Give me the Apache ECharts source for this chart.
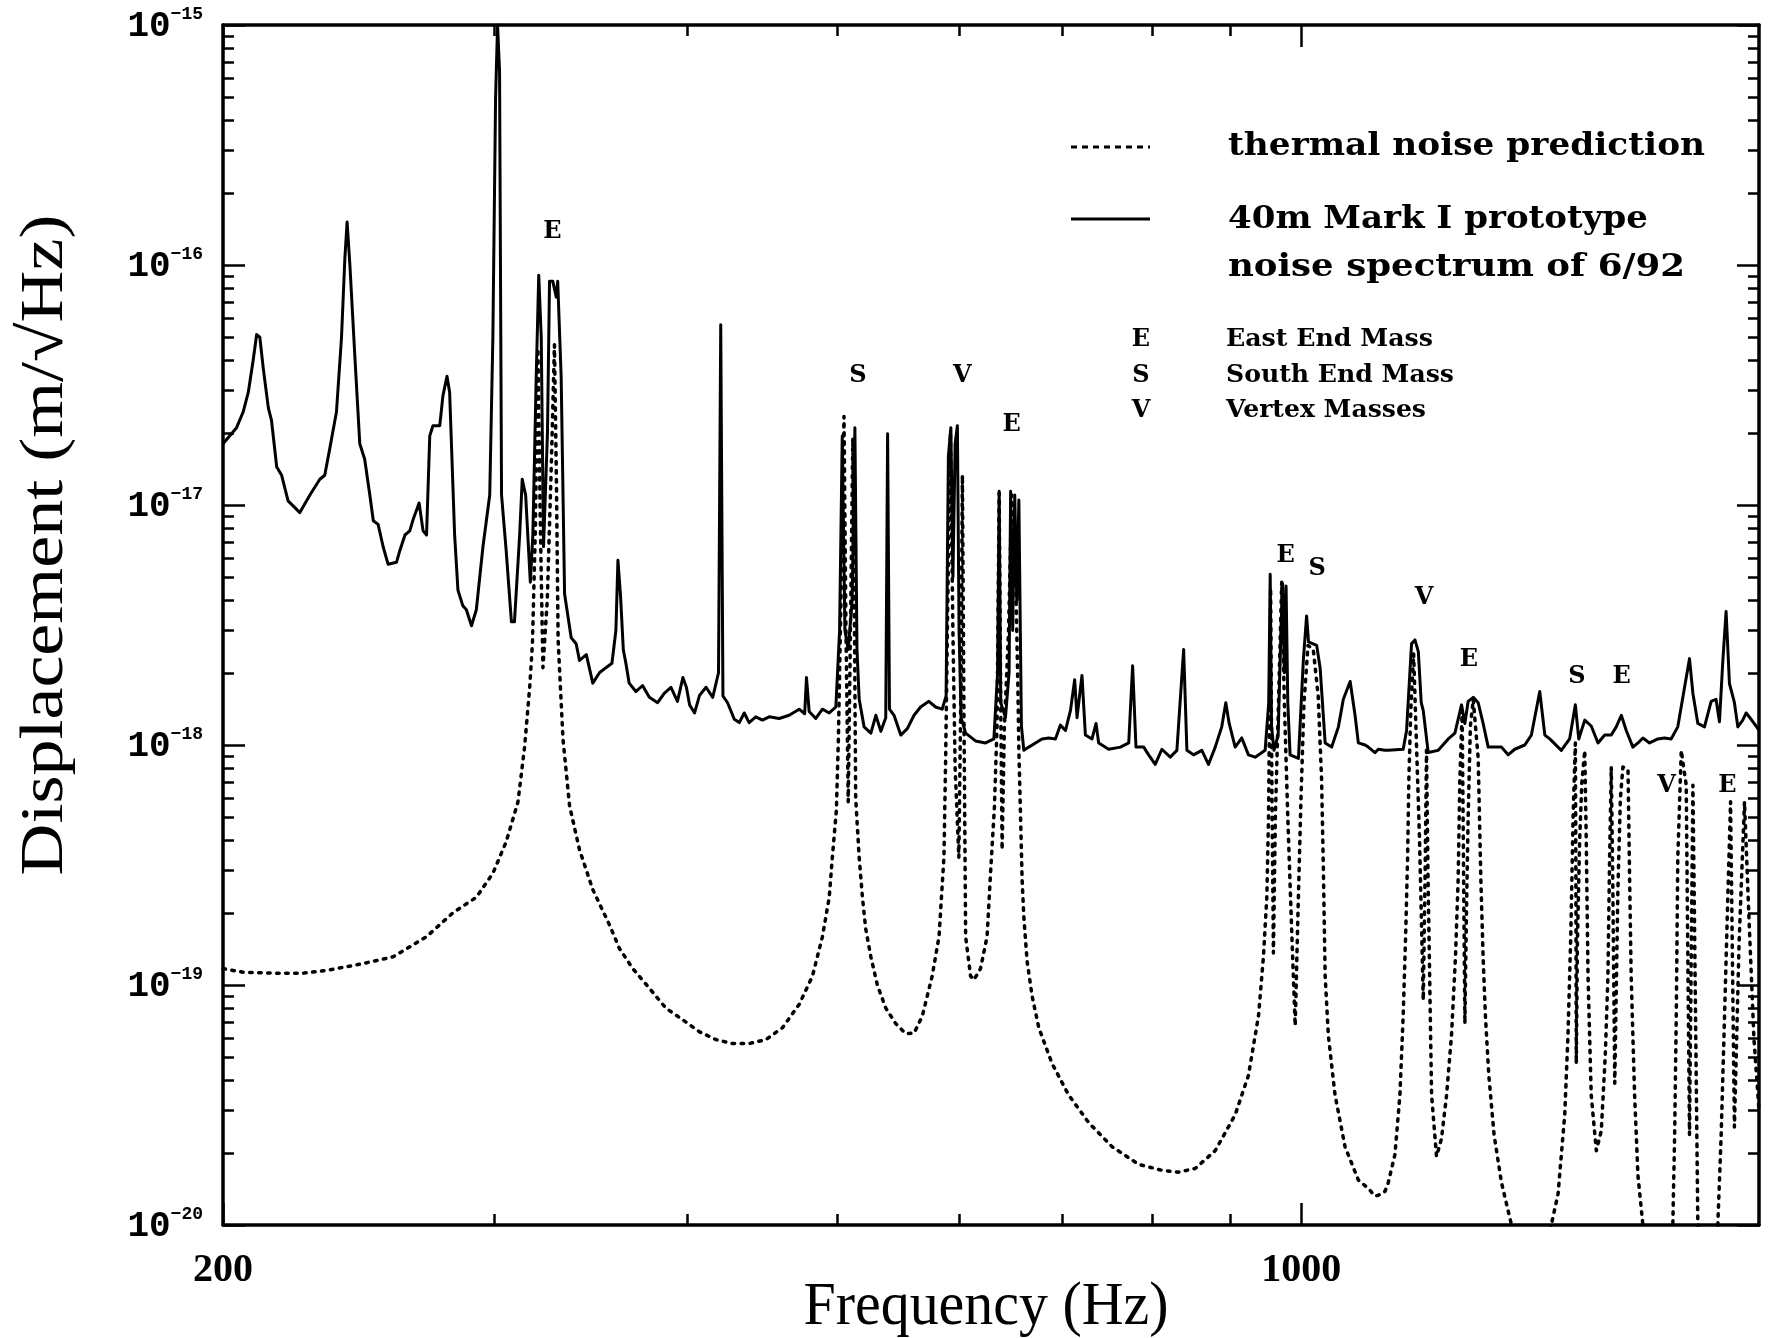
<!DOCTYPE html>
<html><head><meta charset="utf-8">
<script src="https://cdn.jsdelivr.net/npm/echarts@6/dist/echarts.min.js"></script>
<style>html,body{margin:0;padding:0;background:#fff}#chart{width:1771px;height:1338px}</style>
</head><body><div id="chart"></div>
<script>
// ---------- DATA ----------
const xRange = [200, 1980];            // Hz
const yRangeExp = [-20, -15];          // decades of m/sqrt(Hz)
const xTickMajor = [200, 1000];
const xTickMinor = [300, 400, 500, 600, 700, 800, 900];
const xTickLabels = [200, 1000];
const yTickLabelExp = [-20, -19, -18, -17, -16, -15];

// 40m Mark I prototype noise spectrum [Hz, m/sqrt(Hz)]
const measured = [
[200,1.80e-17],[204.1,2.1e-17],[206.1,2.44e-17],[207.7,2.95e-17],[209.2,4.0e-17],[210.3,5.13e-17],[211.3,5.0e-17],[212.4,3.7e-17],[214.0,2.54e-17],[215.0,2.26e-17],[216.7,1.44e-17],[218.3,1.33e-17],[220.4,1.04e-17],[224.3,9.3e-18],[227.7,1.1e-17],[231.1,1.28e-17],[232.8,1.33e-17],[234.6,1.73e-17],[236.9,2.44e-17],[238.7,5.0e-17],[239.9,1.07e-16],[240.7,1.51e-16],[241.7,1.0e-16],[243.5,4.16e-17],[245.3,1.8e-17],[247.1,1.55e-17],[249.0,1.1e-17],[250.3,8.6e-18],[252.1,8.3e-18],[254.0,6.7e-18],[255.9,5.66e-18],[259.1,5.77e-18],[260.4,6.45e-18],[262.4,7.5e-18],[264.3,7.8e-18],[265.7,8.75e-18],[268.0,1.02e-17],[269.6,7.8e-18],[271.0,7.5e-18],[272.3,1.94e-17],[273.6,2.14e-17],[276.4,2.14e-17],[277.7,2.85e-17],[279.4,3.44e-17],[280.5,2.95e-17],[282.6,7.5e-18],[284.0,4.42e-18],[286.1,3.8e-18],[287.6,3.66e-18],[289.8,3.14e-18],[291.9,3.66e-18],[294.8,6.7e-18],[297.8,1.1e-17],[299.2,5.0e-17],[300.4,4.9e-16],[301.3,1.0e-15],[302.2,6.4e-16],[303.1,1.1e-17],[305.2,6.45e-18],[307.6,3.26e-18],[309.0,3.26e-18],[311.4,7.5e-18],[312.6,1.28e-17],[314.2,1.1e-17],[316.4,4.77e-18],[317.6,7.5e-18],[319.2,3.44e-17],[320.4,9.06e-17],[321.6,5.0e-17],[322.7,6.7e-18],[324.6,2.0e-17],[325.6,8.55e-17],[327.2,8.55e-17],[328.9,7.35e-17],[329.6,8.55e-17],[331.3,3.44e-17],[333.0,4.26e-18],[336.3,2.8e-18],[338.8,2.64e-18],[340.5,2.25e-18],[344.0,2.38e-18],[347.3,1.81e-18],[350.8,2.0e-18],[354.2,2.1e-18],[357.4,2.19e-18],[359.5,3.0e-18],[360.6,5.88e-18],[362.0,4.18e-18],[363.5,2.5e-18],[364.9,2.19e-18],[366.7,1.81e-18],[370.4,1.67e-18],[374.1,1.77e-18],[377.9,1.58e-18],[382.6,1.5e-18],[386.4,1.64e-18],[390.3,1.74e-18],[394.1,1.52e-18],[397.3,1.91e-18],[399.4,1.74e-18],[401.3,1.47e-18],[404.3,1.36e-18],[407.3,1.61e-18],[411.3,1.74e-18],[415.4,1.58e-18],[419.0,2.0e-18],[420.4,5.64e-17],[421.8,1.6e-18],[424.7,1.5e-18],[429.0,1.28e-18],[432.2,1.24e-18],[435.4,1.36e-18],[438.6,1.24e-18],[443.0,1.31e-18],[447.4,1.27e-18],[451.9,1.31e-18],[458.7,1.29e-18],[465.6,1.33e-18],[472.6,1.41e-18],[476.5,1.35e-18],[477.8,1.91e-18],[479.7,1.38e-18],[484.5,1.29e-18],[489.3,1.41e-18],[494.3,1.36e-18],[499.2,1.44e-18],[502.0,3e-18],[504.0,1.94e-17],[506.0,3e-18],[508.5,2.5e-18],[511.5,4e-18],[513.6,2.1e-17],[515.2,2.5e-18],[516.9,1.55e-18],[520.7,1.19e-18],[526.0,1.12e-18],[529.9,1.33e-18],[533.9,1.14e-18],[537.8,1.3e-18],[539.3,1.98e-17],[540.8,1.41e-18],[544.5,1.33e-18],[550.0,1.1e-18],[555.4,1.17e-18],[561.0,1.33e-18],[566.5,1.44e-18],[573.6,1.52e-18],[579.3,1.44e-18],[585.1,1.41e-18],[588.5,1.6e-18],[590.5,1.6e-17],[592.7,2.1e-17],[594.5,5e-18],[596.5,1.8e-17],[598.5,2.14e-17],[600.0,3e-18],[601.8,1.3e-18],[605.9,1.12e-18],[614.9,1.04e-18],[624.2,1.02e-18],[632.0,1.06e-18],[635.5,2e-18],[637.0,1.14e-17],[638.5,1.5e-18],[643.0,1.3e-18],[646.5,2e-18],[648.0,1.14e-17],[650.0,3e-18],[652.0,1.1e-17],[654.0,4e-18],[656.0,1.05e-17],[658.5,1.2e-18],[660.9,9.5e-19],[665.8,9.8e-19],[672.5,1.02e-18],[679.1,1.06e-18],[686.0,1.07e-18],[692.8,1.06e-18],[697.9,1.21e-18],[703.3,1.15e-18],[708.5,1.39e-18],[713.0,1.87e-18],[715.5,1.3e-18],[720.8,1.95e-18],[724.5,1.1e-18],[731.7,1.06e-18],[736.1,1.23e-18],[739.0,1.02e-18],[750.1,9.6e-19],[763.4,9.8e-19],[772.9,1.02e-18],[777.4,2.14e-18],[781.3,9.8e-19],[790.4,9.8e-19],[796.2,9.1e-19],[804.1,8.3e-19],[812.1,9.6e-19],[822.3,8.9e-19],[830.5,9.5e-19],[838.9,2.5e-18],[843.0,9.5e-19],[851.4,9.1e-19],[862.0,9.5e-19],[870.6,8.3e-19],[879.4,9.8e-19],[888.0,1.19e-18],[893.4,1.5e-18],[897.9,1.23e-18],[906.0,9.8e-19],[915.0,1.07e-18],[924.1,9.1e-19],[933.5,8.9e-19],[947.4,9.5e-19],[952.5,1.5e-18],[954.6,5.15e-18],[956.5,1.2e-18],[960.0,9.5e-19],[966.0,1.1e-18],[970.0,3e-18],[972.5,4.7e-18],[975.0,2e-18],[977.5,4.6e-18],[980.0,1.5e-18],[983.4,9.1e-19],[995.7,8.8e-19],[1003.0,2.25e-18],[1007.9,3.45e-18],[1010.8,2.69e-18],[1023.2,2.6e-18],[1028.4,2.1e-18],[1036.2,1.02e-18],[1046.3,9.8e-19],[1056.9,1.19e-18],[1064.7,1.55e-18],[1075.6,1.84e-18],[1083.5,1.33e-18],[1088.8,1.02e-18],[1099.9,1.0e-18],[1105.2,9.8e-19],[1116.2,9.3e-19],[1121.8,9.6e-19],[1133.0,9.5e-19],[1138.5,9.5e-19],[1164.2,9.6e-19],[1170.1,1.15e-18],[1178.8,2.64e-18],[1184.8,2.74e-18],[1190.8,2.45e-18],[1196.0,1.5e-18],[1199.6,1.39e-18],[1208.5,9.3e-19],[1226.7,9.5e-19],[1245.2,1.06e-18],[1257.6,1.12e-18],[1270.1,1.47e-18],[1276.5,1.23e-18],[1282.7,1.52e-18],[1292.5,1.58e-18],[1302.1,1.5e-18],[1311.7,1.23e-18],[1321.7,9.8e-19],[1348.2,9.8e-19],[1361.5,9.1e-19],[1375.1,9.6e-19],[1395.9,1.0e-18],[1409.7,1.1e-18],[1427.4,1.67e-18],[1438.3,1.1e-18],[1448.9,1.06e-18],[1474.1,9.5e-19],[1492.5,1.06e-18],[1505.3,1.47e-18],[1513.0,1.06e-18],[1526.6,1.27e-18],[1541.4,1.2e-18],[1557.1,1.02e-18],[1572.6,1.1e-18],[1588.2,1.1e-18],[1600.0,1.19e-18],[1612.2,1.33e-18],[1624.1,1.15e-18],[1640.3,9.8e-19],[1652.8,1.02e-18],[1665.0,1.07e-18],[1681.6,1.02e-18],[1702.6,1.06e-18],[1719.5,1.07e-18],[1736.6,1.06e-18],[1754.0,1.19e-18],[1771.8,1.74e-18],[1784.9,2.29e-18],[1794.0,1.64e-18],[1807.3,1.23e-18],[1825.3,1.19e-18],[1843.5,1.52e-18],[1857.1,1.55e-18],[1866.5,1.25e-18],[1876.0,2.25e-18],[1885.1,3.6e-18],[1894.6,1.8e-18],[1908.7,1.5e-18],[1918.4,1.19e-18],[1932.6,1.27e-18],[1942.4,1.36e-18],[1956.8,1.28e-18],[1971.3,1.2e-18],[1980,1.15e-18]
];

// thermal noise prediction [Hz, m/sqrt(Hz)]
const thermal = [
[200,1.17e-19],[206.1,1.13e-19],[216.7,1.12e-19],[225.4,1.12e-19],[233.4,1.15e-19],[245.3,1.22e-19],[257.8,1.31e-19],[271.0,1.59e-19],[281.9,2.0e-19],[291.9,2.32e-19],[299.2,2.92e-19],[305.2,3.95e-19],[310.6,5.78e-19],[313.7,9.8e-19],[316.1,1.74e-18],[317.4,2.64e-18],[318.8,8e-18],[320.0,4.49e-17],[321.2,8e-18],[322.4,2.1e-18],[324.5,4e-18],[326.5,1.5e-17],[328.0,4.65e-17],[329.0,1.2e-17],[329.8,2.74e-18],[332.2,1.06e-18],[335.5,5.57e-19],[340.5,3.66e-19],[347.3,2.5e-19],[356.1,1.78e-19],[361.4,1.42e-19],[368.7,1.17e-19],[377.9,9.7e-20],[387.4,8.0e-20],[397.3,7.16e-20],[407.3,6.38e-20],[417.5,5.92e-20],[427.9,5.7e-20],[438.6,5.7e-20],[449.7,5.92e-20],[461.0,6.64e-20],[472.6,8.3e-20],[482.1,1.09e-19],[489.3,1.59e-19],[494.3,2.32e-19],[496.6,3.4e-19],[499.6,5.36e-19],[501.1,1.06e-18],[503.0,4e-18],[505.3,2.34e-17],[506.8,3e-18],[508.5,5.8e-19],[510.2,3e-18],[512.0,1.9e-17],[513.3,3e-18],[514.2,6.0e-19],[516.9,3.4e-19],[519.4,2.32e-19],[522.0,1.71e-19],[526.0,1.31e-19],[531.1,1.0e-19],[537.9,8.0e-20],[545.9,6.9e-20],[554.1,6.27e-20],[561.0,6.3e-20],[568.0,7.43e-20],[576.4,1.09e-19],[582.3,1.59e-19],[586.6,3.4e-19],[588.1,8.8e-19],[590.0,4e-18],[592.3,2.0e-17],[594.5,3e-18],[596.5,8e-19],[599.8,3.4e-19],[601.8,2e-18],[603.0,1.33e-17],[604.3,1.5e-18],[605.9,1.59e-19],[610.4,1.09e-19],[613.4,1.05e-19],[619.5,1.17e-19],[625.6,1.59e-19],[629.0,3.0e-19],[632.5,5.5e-19],[635.0,1.2e-18],[637.0,1.12e-17],[638.6,1.3e-18],[639.8,3.66e-19],[642.0,1.2e-18],[646.0,3e-18],[649.0,1.1e-17],[652.5,6e-18],[655.0,1.8e-18],[656.0,9.5e-19],[657.7,4.97e-19],[659.2,2.74e-19],[660.9,1.92e-19],[664.1,1.26e-19],[669.1,9.0e-20],[675.8,6.64e-20],[689.3,4.71e-20],[706.6,3.48e-20],[728.1,2.67e-20],[753.9,2.12e-20],[784.4,1.79e-20],[812.1,1.69e-20],[832.6,1.66e-20],[853.5,1.72e-20],[879.4,2.04e-20],[906.0,2.88e-20],[924.1,4.2e-20],[938.1,7.44e-20],[945.0,1.31e-19],[949.8,2.32e-19],[952.2,4.97e-19],[953.8,1.5e-18],[955.2,4.5e-18],[956.8,8e-19],[959.2,1.36e-19],[962.0,5e-19],[966.5,1.5e-18],[971.2,4.8e-18],[975.0,1.5e-18],[980.0,5e-19],[986.0,1.6e-19],[990.9,6.76e-20],[995.0,2e-19],[999.5,6e-19],[1004.0,1.5e-18],[1010.0,2.6e-18],[1018.0,2.5e-18],[1025.5,1.6e-18],[1030.7,7.2e-19],[1033.5,3.0e-19],[1036.2,1.09e-19],[1041.2,6.15e-20],[1051.6,3.48e-20],[1067.4,2.12e-20],[1088.8,1.54e-20],[1105.2,1.42e-20],[1116.2,1.32e-20],[1121.8,1.33e-20],[1133.0,1.38e-20],[1138.5,1.5e-20],[1150.0,1.97e-20],[1158.5,3.48e-20],[1164.2,7.44e-20],[1168.4,1.59e-19],[1171.9,3.4e-19],[1174.1,7.2e-19],[1177.5,1.4e-18],[1182.5,2.4e-18],[1186.5,1.2e-18],[1193.0,4e-19],[1199.6,8.65e-20],[1203.0,3e-19],[1205.4,9.5e-19],[1208.0,3e-19],[1214.6,3.48e-20],[1223.6,1.93e-20],[1232.7,2.29e-20],[1242.1,3.48e-20],[1251.2,6.15e-20],[1258.7,1.31e-19],[1263.7,2.74e-19],[1266.9,7.2e-19],[1271.3,1.39e-18],[1274.0,3e-19],[1276.5,6.9e-20],[1279.5,2e-19],[1282.7,4.97e-19],[1287.0,1.2e-18],[1292.5,1.55e-18],[1302.1,8.8e-19],[1307.3,2.74e-19],[1311.7,1.31e-19],[1316.2,7.44e-20],[1322.9,4.2e-20],[1333.3,2.38e-20],[1348.2,1.5e-20],[1368.5,1.0e-20],[1390,6e-21],[1420,5e-21],[1440,6e-21],[1452.2,1.0e-20],[1467.0,1.35e-20],[1481.6,2.88e-20],[1488.8,6.15e-20],[1495.0,1.59e-19],[1500.2,4.97e-19],[1503.5,8e-19],[1505.3,1.02e-18],[1506.5,3e-19],[1507.4,4.71e-20],[1510.0,1.5e-19],[1515.0,4e-19],[1520.0,7e-19],[1526.6,9.5e-19],[1530.0,4e-19],[1534.0,1.09e-19],[1541.4,3.48e-20],[1553.2,2.04e-20],[1564.7,2.47e-20],[1574.1,5.1e-20],[1580.3,1.09e-19],[1584.3,3.4e-19],[1588.2,8.1e-19],[1592.0,2.5e-19],[1596.5,3.9e-20],[1604.0,2.5e-19],[1610.0,6e-19],[1616.0,8.1e-19],[1628.4,7.9e-19],[1632.0,3e-19],[1636.1,1.09e-19],[1644.5,3.48e-20],[1652.8,1.6e-20],[1665.0,1.0e-20],[1690,6e-21],[1720,6e-21],[1741.0,1.0e-20],[1745.8,2.38e-20],[1750.0,7.44e-20],[1754.0,3.4e-19],[1763.1,9.5e-19],[1776.2,6.8e-19],[1784.9,2.38e-20],[1794.0,6.8e-19],[1798,2e-19],[1803,4e-20],[1807.3,1.0e-20],[1830,6e-21],[1861.9,1.0e-20],[1871.3,2.38e-20],[1880.8,7.44e-20],[1889.9,2.32e-19],[1897.7,5.8e-19],[1908.7,2.56e-20],[1922,1.5e-19],[1937.6,5.8e-19],[1950,2e-19],[1965,6e-20],[1980,3e-20]
];

// resonance annotations
const annText = ['E','S','V','E','E','S','V','E','S','E','V','E'];
const annFreq = [327, 516, 603, 649, 977, 1024, 1201, 1284, 1509, 1613, 1725, 1889];
const annDisp = [1.38e-16, 3.47e-17, 3.47e-17, 2.15e-17, 6.15e-18, 5.4e-18, 4.12e-18, 2.27e-18, 1.93e-18, 1.93e-18, 6.77e-19, 6.77e-19];

const legendLines = ['thermal noise prediction', '40m Mark I prototype', 'noise spectrum of 6/92'];
const keyLetters = ['E', 'S', 'V'];
const keyNames = ['East End Mass', 'South End Mass', 'Vertex Masses'];

// ---------- CHART ----------
const L = Math.log10;
const toLog = arr => arr.map(p => [L(p[0]), L(p[1])]);
const xMin = L(xRange[0]), xMax = L(xRange[1]);
const yMinor = [];
for (let e = yRangeExp[0]; e < yRangeExp[1]; e++) for (let m = 2; m <= 9; m++) yMinor.push(e + L(m));
const yMajor = yTickLabelExp.slice();

const black = '#000';
const monoFont = '"Liberation Mono", "DejaVu Sans Mono", monospace';
const serifFont = '"DejaVu Serif", "Liberation Serif", serif';

function xAx(pos, ticks, len, withLine, withLabel) {
  return {
    type: 'value', position: pos, min: xMin, max: xMax, offset: 0,
    axisLine: { show: withLine, onZero: false, lineStyle: { color: black, width: 3.5 } },
    axisTick: { show: true, inside: true, length: len, customValues: ticks.map(L), lineStyle: { color: black, width: 2.5 } },
    axisLabel: withLabel ? {
      show: true, customValues: xTickLabels.map(L), margin: 26, color: black,
      fontFamily: '"Liberation Serif", serif', fontSize: 40, fontWeight: 'bold',
      formatter: v => String(Math.round(Math.pow(10, v)))
    } : { show: false },
    splitLine: { show: false }
  };
}
function yAx(pos, ticks, len, withLine, withLabel) {
  return {
    type: 'value', position: pos, min: yRangeExp[0], max: yRangeExp[1], offset: 0,
    axisLine: { show: withLine, onZero: false, lineStyle: { color: black, width: 3.5 } },
    axisTick: { show: true, inside: true, length: len, customValues: ticks, lineStyle: { color: black, width: 2.5 } },
    axisLabel: withLabel ? {
      show: true, customValues: yTickLabelExp, margin: 20, color: black,
      formatter: v => '{m|10}{e|\u2212' + Math.round(-v) + '}',
      rich: {
        m: { fontFamily: monoFont, fontWeight: 'bold', fontSize: 36, color: black, lineHeight: 40, verticalAlign: 'bottom' },
        e: { fontFamily: monoFont, fontWeight: 'bold', fontSize: 18, color: black, lineHeight: 40, verticalAlign: 'top' }
      }
    } : { show: false },
    splitLine: { show: false }
  };
}

function measureW(str, font) {
  const c = document.createElement('canvas').getContext('2d');
  c.font = font; return c.measureText(str).width;
}
// text fitted to a target width (reference typography is a condensed/typewriter face)
function fitText(str, x, y, font, width, extra) {
  return Object.assign({ type: 'text', x: x, y: y, scaleX: width / measureW(str, font),
    style: { text: str, font: font, fill: black, textVerticalAlign: 'middle' } }, extra || {});
}
const titleFont = '62px "Liberation Serif", serif';
const xTitle = 'Frequency (Hz)';
const yTitle = 'Displacement (m/\u221AHz)';
const bigLegendFont = 'bold 32px ' + serifFont;
const smallLegendFont = 'bold 24px ' + serifFont;
const bigLegendW = [477, 420, 457];
const keyNameW = [207, 228, 200];

const chart = echarts.init(document.getElementById('chart'), null, { renderer: 'canvas' });
const xt = fitText(xTitle, 986, 1308, titleFont, 365); xt.style.textAlign = 'center';
const yt = fitText(yTitle, 46, 545, titleFont, 661, { rotation: Math.PI / 2 }); yt.style.textAlign = 'center';

chart.setOption({
  backgroundColor: '#fff',
  animation: false,
  grid: { left: 223, right: 12, top: 25, bottom: 113, containLabel: false, outerBoundsMode: 'none' },
  xAxis: [
    xAx('bottom', xTickMinor, 11, true, true),
    xAx('bottom', xTickMajor, 22, false, false),
    xAx('top', xTickMinor, 11, true, false),
    xAx('top', xTickMajor, 22, false, false)
  ],
  yAxis: [
    yAx('left', yMinor, 11, true, true),
    yAx('left', yMajor, 22, false, false),
    yAx('right', yMinor, 11, true, false),
    yAx('right', yMajor, 22, false, false)
  ],
  series: [
    {
      name: 'thermal noise prediction', type: 'line', xAxisIndex: 0, yAxisIndex: 0,
      data: toLog(thermal), showSymbol: false, symbol: 'none', clip: true, z: 2, silent: true,
      lineStyle: { color: black, width: 3.5, type: [2.5, 6.5], cap: 'round', join: 'round' }
    },
    {
      name: '40m Mark I prototype noise spectrum of 6/92', type: 'line', xAxisIndex: 0, yAxisIndex: 0,
      data: toLog(measured), showSymbol: false, symbol: 'none', clip: true, z: 3, silent: true,
      lineStyle: { color: black, width: 3, join: 'round' }
    },
    {
      name: 'resonances', type: 'scatter', xAxisIndex: 0, yAxisIndex: 0, z: 4, silent: true,
      symbolSize: 1, itemStyle: { color: 'rgba(0,0,0,0)', opacity: 1 },
      data: annText.map((t, i) => ({ name: t, value: [L(annFreq[i]), L(annDisp[i])] })),
      label: { show: true, position: 'inside', formatter: '{b}', color: black, opacity: 1, fontFamily: serifFont, fontWeight: 'bold', fontSize: 24 }
    }
  ],
  graphic: [
    { type: 'line', shape: { x1: 1071, y1: 147, x2: 1150, y2: 147 }, style: { stroke: black, lineWidth: 3, lineDash: [6, 5] } },
    { type: 'line', shape: { x1: 1071, y1: 219, x2: 1150, y2: 219 }, style: { stroke: black, lineWidth: 3 } },
    fitText(legendLines[0], 1228, 147, bigLegendFont, bigLegendW[0]),
    fitText(legendLines[1], 1228, 220, bigLegendFont, bigLegendW[1]),
    fitText(legendLines[2], 1228, 268, bigLegendFont, bigLegendW[2]),
    ...keyLetters.map((k, i) => ({ type: 'text', x: 1141, y: 340 + 35.5 * i, style: { text: k, font: smallLegendFont, fill: black, textAlign: 'center', textVerticalAlign: 'middle' } })),
    ...keyNames.map((k, i) => fitText(k, 1226, 340 + 35.5 * i, smallLegendFont, keyNameW[i])),
    xt, yt
  ]
});
</script>
</body></html>
